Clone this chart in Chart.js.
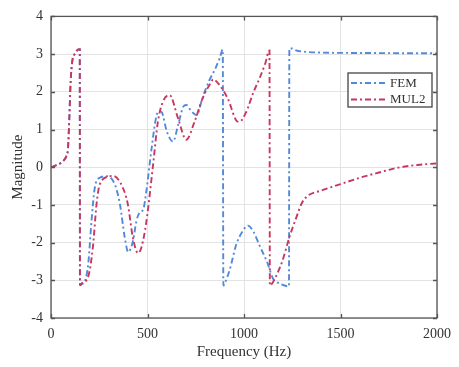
<!DOCTYPE html>
<html lang="en">

<head>
    <meta charset="UTF-8">
    <title>Magnitude</title>
    <style>
        html, body { margin: 0; padding: 0; background: #fff; }
        #chart { display: block; }
    </style>
</head>

<body>
    <canvas id="chart" width="459" height="367"></canvas>

    <script src="https://cdn.jsdelivr.net/npm/chart.js@4.4.4/dist/chart.umd.min.js"></script>
    <script>
        // values
        const femFreq = [0, 40, 60, 80, 88, 95, 102, 110, 125, 140, 149, 150, 160, 176, 193, 210, 227, 253, 288, 331, 357, 382, 400, 425, 443, 460, 478, 495, 520, 546, 565, 575, 600, 632, 660, 685, 701, 725, 755, 780, 800, 820, 850, 875, 890, 893, 900, 925, 960, 995, 1020, 1050, 1080, 1123, 1150, 1183, 1233, 1235, 1250, 1270, 1320, 1400, 1600, 2000];
        const femMag = [0, 0.08, 0.15, 0.3, 0.5, 1.3, 2.3, 2.8, 3.02, 3.12, 3.13, -3.13, -3.1, -3.02, -2.56, -1.42, -0.54, -0.28, -0.24, -0.46, -0.98, -1.86, -2.25, -1.95, -1.42, -1.2, -1.12, -0.6, 0.45, 1.35, 1.48, 1.45, 0.95, 0.68, 1.15, 1.6, 1.65, 1.5, 1.38, 1.75, 2.05, 2.3, 2.6, 2.9, 3.12, -3.14, -3.08, -2.74, -2.05, -1.68, -1.55, -1.72, -2.07, -2.56, -2.95, -3.08, -3.16, 3.15, 3.15, 3.1, 3.06, 3.04, 3.03, 3.02];

        const mulFreq = [0, 40, 60, 80, 88, 95, 102, 110, 125, 140, 149, 150, 160, 193, 217, 236, 253, 305, 320, 372, 398, 424, 451, 470, 494, 529, 554, 580, 615, 658, 701, 744, 785, 830, 839, 870, 916, 968, 977, 1010, 1050, 1080, 1110, 1132, 1134, 1150, 1170, 1200, 1235, 1270, 1300, 1330, 1400, 1500, 1600, 1700, 1800, 1900, 2000];
        const mulMag = [0, 0.08, 0.15, 0.3, 0.5, 1.3, 2.3, 2.8, 3.02, 3.12, 3.13, -3.13, -3.08, -2.9, -2.12, -0.98, -0.45, -0.24, -0.23, -0.54, -0.98, -1.86, -2.28, -2.1, -1.45, 0.07, 1.21, 1.74, 1.91, 1.3, 0.73, 1.21, 1.82, 2.26, 2.33, 2.2, 1.82, 1.21, 1.21, 1.45, 2.0, 2.35, 2.75, 3.1, -3.14, -3.05, -2.85, -2.47, -1.86, -1.35, -0.95, -0.76, -0.62, -0.45, -0.28, -0.14, -0.01, 0.06, 0.1];

        const xTicks = [0, 500, 1000, 1500, 2000];
        const yTicks = [-4, -3, -2, -1, 0, 1, 2, 3, 4];

        const seriesNames = ['FEM', 'MUL2'];
        const seriesColors = ['#5189db', '#c8375f'];
        const dashStyle = [6, 3, 2, 3];
        const serif = "'Liberation Serif', 'Times New Roman', serif";

        function toPoints(xs, ys) {
            return xs.map((x, i) => ({ x: x, y: ys[i] }));
        }

        // frame, inward ticks and the boxed legend
        const framePlugin = {
            id: 'frame',
            afterDraw(chart) {
                const ctx = chart.ctx;
                const a = chart.chartArea;
                const xs = chart.scales.x;
                const ys = chart.scales.y;
                ctx.save();
                ctx.strokeStyle = '#555';
                ctx.lineWidth = 1.3;
                ctx.beginPath();
                xTicks.forEach(v => {
                    const px = Math.round(xs.getPixelForValue(v)) + 0.5;
                    ctx.moveTo(px, a.bottom); ctx.lineTo(px, a.bottom - 4);
                    ctx.moveTo(px, a.top); ctx.lineTo(px, a.top + 4);
                });
                yTicks.forEach(v => {
                    const py = Math.round(ys.getPixelForValue(v)) + 0.5;
                    ctx.moveTo(a.left, py); ctx.lineTo(a.left + 4, py);
                    ctx.moveTo(a.right, py); ctx.lineTo(a.right - 4, py);
                });
                ctx.stroke();
                ctx.strokeRect(a.left, a.top, a.right - a.left, a.bottom - a.top);

                // legend
                const lx = 348, ly = 73, lw = 84, lh = 34;
                ctx.fillStyle = '#fff';
                ctx.fillRect(lx, ly, lw, lh);
                ctx.strokeStyle = '#444';
                ctx.lineWidth = 1.3;
                ctx.strokeRect(lx, ly, lw, lh);
                ctx.font = '13px ' + serif;
                ctx.textBaseline = 'middle';
                seriesNames.forEach((name, i) => {
                    const y = ly + 10 + i * 16.5;
                    ctx.strokeStyle = seriesColors[i];
                    ctx.lineWidth = 1.8;
                    ctx.setLineDash(dashStyle);
                    ctx.beginPath();
                    ctx.moveTo(lx + 3, y);
                    ctx.lineTo(lx + 40, y);
                    ctx.stroke();
                    ctx.setLineDash([]);
                    ctx.fillStyle = '#333';
                    ctx.fillText(name, lx + 42, y + 0.5);
                });
                ctx.restore();
            }
        };

        const ctx = document.getElementById('chart').getContext('2d');
        new Chart(ctx, {
            type: 'line',
            data: {
                datasets: [{
                    label: seriesNames[0],
                    data: toPoints(femFreq, femMag),
                    borderColor: seriesColors[0],
                    borderWidth: 1.9,
                    borderDash: dashStyle,
                    pointRadius: 0,
                    fill: false,
                    cubicInterpolationMode: 'monotone',
                    order: 1
                }, {
                    label: seriesNames[1],
                    data: toPoints(mulFreq, mulMag),
                    borderColor: seriesColors[1],
                    borderWidth: 1.9,
                    borderDash: dashStyle,
                    pointRadius: 0,
                    fill: false,
                    cubicInterpolationMode: 'monotone',
                    order: 0
                }]
            },
            options: {
                responsive: false,
                animation: false,
                layout: { padding: { top: 14, right: 21, left: 0, bottom: 0 } },
                plugins: {
                    legend: { display: false },
                    tooltip: { enabled: false }
                },
                scales: {
                    x: {
                        type: 'linear',
                        min: 0,
                        max: 2000,
                        afterFit(scale) { scale.height = 49; },
                        afterBuildTicks(scale) { scale.ticks = xTicks.map(v => ({ value: v })); },
                        grid: { color: '#e3e3e3', lineWidth: 1, drawTicks: false },
                        border: { display: false },
                        ticks: {
                            padding: 8,
                            maxRotation: 0,
                            color: '#333',
                            font: { family: serif, size: 14 },
                            callback: v => String(v)
                        },
                        title: {
                            display: true,
                            text: 'Frequency (Hz)',
                            color: '#333',
                            font: { family: serif, size: 15 },
                            padding: { top: 0, bottom: 6 }
                        }
                    },
                    y: {
                        min: -4,
                        max: 4,
                        afterFit(scale) { scale.width = 51; },
                        afterBuildTicks(scale) { scale.ticks = yTicks.map(v => ({ value: v })); },
                        grid: { color: '#e3e3e3', lineWidth: 1, drawTicks: false },
                        border: { display: false },
                        ticks: {
                            padding: 8,
                            color: '#333',
                            font: { family: serif, size: 14 },
                            callback: v => String(v)
                        },
                        title: {
                            display: true,
                            text: 'Magnitude',
                            color: '#333',
                            font: { family: serif, size: 15 },
                            padding: { top: 9, bottom: 0 }
                        }
                    }
                }
            },
            plugins: [framePlugin]
        });
    </script>
</body>

</html>
